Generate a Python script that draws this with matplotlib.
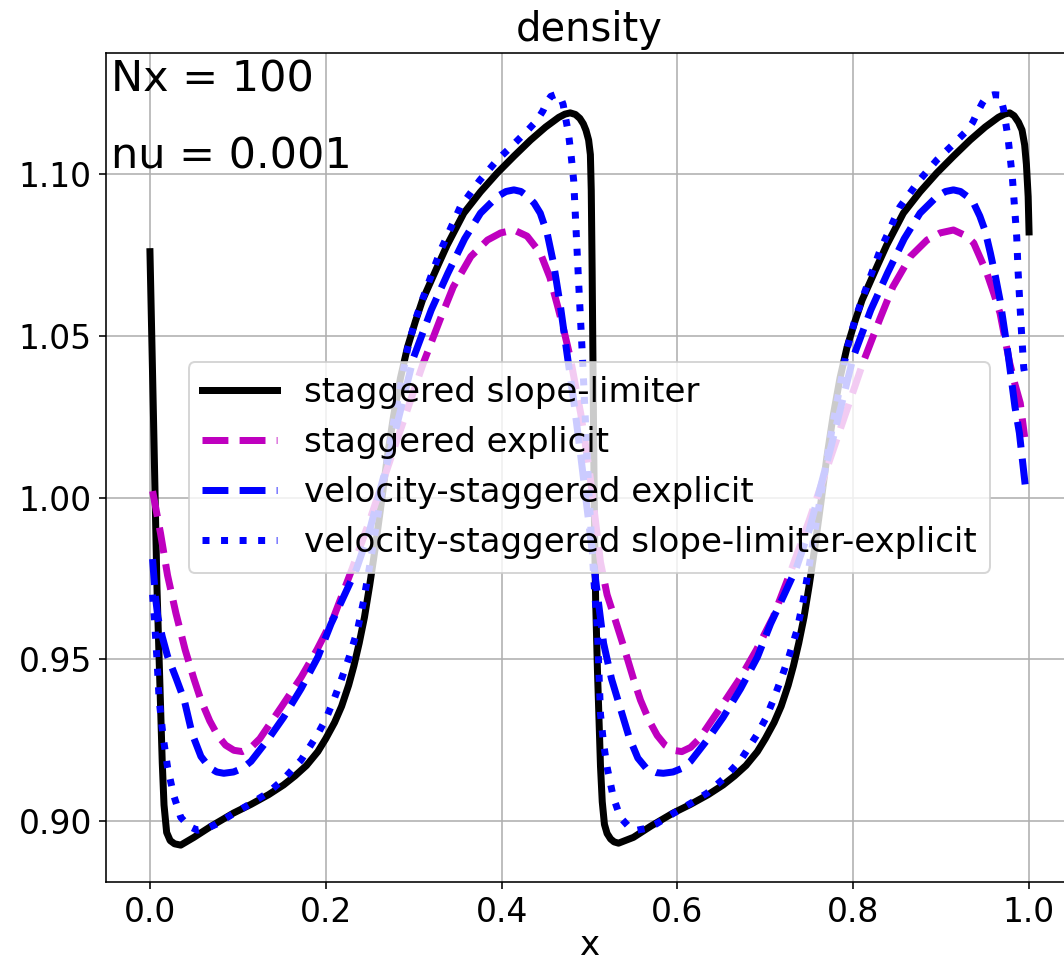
import matplotlib
matplotlib.use("Agg")
import matplotlib.pyplot as plt

# staggered slope-limiter
black_x = [0.000, 0.004, 0.008, 0.011, 0.014, 0.016, 0.019, 0.023, 0.028, 0.035,
           0.050, 0.070, 0.095, 0.115, 0.135, 0.152, 0.165, 0.178, 0.191, 0.200,
           0.210, 0.218, 0.226, 0.232, 0.238, 0.244, 0.250, 0.256, 0.263, 0.270,
           0.277, 0.285, 0.293, 0.302, 0.310, 0.319, 0.328, 0.338, 0.357, 0.376,
           0.395, 0.414, 0.433, 0.450, 0.465, 0.472, 0.478, 0.484, 0.489, 0.493,
           0.496, 0.499, 0.501, 0.502, 0.503, 0.504, 0.505, 0.506, 0.507, 0.509,
           0.5125, 0.5145, 0.517, 0.520, 0.524, 0.528, 0.533,
           0.550, 0.570, 0.595, 0.615, 0.635, 0.652, 0.665, 0.678, 0.691, 0.700,
           0.710, 0.718, 0.726, 0.732, 0.738, 0.744, 0.750, 0.756, 0.763, 0.770,
           0.777, 0.785, 0.793, 0.802, 0.810, 0.819, 0.828, 0.838, 0.857, 0.876,
           0.895, 0.914, 0.933, 0.950, 0.965, 0.972, 0.978, 0.983, 0.988, 0.992,
           0.995, 0.997, 0.999, 1.000]
black_y = [1.076, 1.025, 0.972, 0.945, 0.918, 0.905, 0.8965, 0.8940, 0.8930, 0.8926,
           0.8950, 0.8985, 0.9025, 0.9052, 0.9082, 0.9112, 0.9140, 0.9172, 0.9215, 0.9255,
           0.9305, 0.9355, 0.9420, 0.9480, 0.9550, 0.9630, 0.9730, 0.9840, 0.9980, 1.0125,
           1.0250, 1.0370, 1.0465, 1.0545, 1.0610, 1.0665, 1.0720, 1.0780, 1.0879, 1.0945,
           1.1003, 1.1055, 1.1105, 1.1145, 1.1175, 1.1185, 1.1189, 1.1184, 1.1172, 1.1155,
           1.1135, 1.1105, 1.1060, 1.0950, 1.0700, 1.0400, 1.0100, 0.9850, 0.9680, 0.9470,
           0.9170, 0.9060, 0.8990, 0.8962, 0.8945, 0.8936, 0.8932,
           0.8950, 0.8985, 0.9025, 0.9052, 0.9082, 0.9112, 0.9140, 0.9172, 0.9215, 0.9255,
           0.9305, 0.9355, 0.9420, 0.9480, 0.9550, 0.9630, 0.9730, 0.9840, 0.9980, 1.0125,
           1.0250, 1.0370, 1.0465, 1.0545, 1.0610, 1.0665, 1.0720, 1.0780, 1.0879, 1.0945,
           1.1003, 1.1055, 1.1105, 1.1145, 1.1175, 1.1185, 1.1189, 1.1180, 1.1160, 1.1136,
           1.1090, 1.1030, 1.0930, 1.0821]

# staggered explicit
mag_x = [0.003, 0.012, 0.020, 0.0295, 0.040, 0.050, 0.058, 0.068, 0.077, 0.086,
         0.0955, 0.105, 0.115, 0.125, 0.134, 0.150, 0.172, 0.190, 0.209, 0.230,
         0.250, 0.280, 0.311, 0.330, 0.345, 0.365, 0.384, 0.399, 0.414, 0.429,
         0.444, 0.455, 0.464, 0.471, 0.478, 0.490, 0.500, 0.5125, 0.520, 0.5295,
         0.540, 0.550, 0.558, 0.568, 0.577, 0.586, 0.5955, 0.605, 0.615, 0.625,
         0.634, 0.650, 0.672, 0.690, 0.709, 0.730, 0.750, 0.780, 0.811, 0.830,
         0.845, 0.865, 0.884, 0.899, 0.914, 0.929, 0.937, 0.952, 0.960, 0.967,
         0.978, 0.984, 0.990, 0.995]
mag_y = [1.002, 0.989, 0.976, 0.9643, 0.9530, 0.9440, 0.9374, 0.9310, 0.9265, 0.9235,
         0.9219, 0.9215, 0.9228, 0.9255, 0.9291, 0.9355, 0.9445, 0.9530, 0.9631, 0.9780,
         0.9930, 1.0170, 1.0416, 1.0550, 1.0651, 1.0745, 1.0796, 1.0818, 1.0827, 1.0808,
         1.0756, 1.0680, 1.0589, 1.0515, 1.0434, 1.0260, 1.0080, 0.9800, 0.9700, 0.9620,
         0.9530, 0.9440, 0.9374, 0.9310, 0.9265, 0.9235, 0.9219, 0.9215, 0.9228, 0.9255,
         0.9291, 0.9355, 0.9445, 0.9530, 0.9631, 0.9780, 0.9930, 1.0170, 1.0416, 1.0550,
         1.0651, 1.0745, 1.0796, 1.0818, 1.0827, 1.0808, 1.0787, 1.0694, 1.0630, 1.0570,
         1.0416, 1.0350, 1.0292, 1.0187]

# velocity-staggered explicit
vse_x = [0.003, 0.006, 0.009, 0.014, 0.020, 0.030, 0.039, 0.048, 0.058, 0.068,
         0.076, 0.084, 0.095, 0.105, 0.115, 0.125, 0.135, 0.152, 0.172, 0.191,
         0.206, 0.217, 0.235, 0.250, 0.275, 0.300, 0.320, 0.339, 0.358, 0.376,
         0.395, 0.405, 0.414, 0.422, 0.430, 0.437, 0.444, 0.452, 0.459, 0.467,
         0.475, 0.482, 0.490, 0.498, 0.507, 0.516, 0.525, 0.535, 0.545, 0.555,
         0.565, 0.576, 0.584, 0.595, 0.605, 0.615, 0.625, 0.635, 0.652, 0.672,
         0.691, 0.706, 0.717, 0.735, 0.750, 0.775, 0.800, 0.820, 0.839, 0.858,
         0.876, 0.895, 0.905, 0.914, 0.922, 0.930, 0.937, 0.944, 0.950, 0.956,
         0.962, 0.967, 0.976, 0.984, 0.989, 0.996]
vse_y = [0.981, 0.970, 0.963, 0.957, 0.951, 0.9440, 0.9374, 0.9270, 0.9200, 0.9165,
         0.9152, 0.9148, 0.9152, 0.9163, 0.9185, 0.9220, 0.9255, 0.9321, 0.9410, 0.9507,
         0.9610, 0.9674, 0.9780, 0.9900, 1.0160, 1.0434, 1.0580, 1.0694, 1.0800, 1.0879,
         1.0930, 1.0946, 1.0951, 1.0946, 1.0930, 1.0910, 1.0879, 1.0815, 1.0725, 1.0590,
         1.0434, 1.0300, 1.0130, 0.9950, 0.9745, 0.9550, 0.9440, 0.9350, 0.9260, 0.9195,
         0.9162, 0.9150, 0.9148, 0.9152, 0.9163, 0.9185, 0.9220, 0.9255, 0.9321, 0.9410,
         0.9507, 0.9610, 0.9674, 0.9780, 0.9900, 1.0160, 1.0434, 1.0580, 1.0694, 1.0800,
         1.0879, 1.0930, 1.0946, 1.0951, 1.0946, 1.0930, 1.0910, 1.0870, 1.0825, 1.0756,
         1.0680, 1.0610, 1.0447, 1.0280, 1.0200, 1.0030]

# velocity-staggered slope-limiter-explicit
vsl_x = [0.003, 0.005, 0.008, 0.0105, 0.015, 0.020, 0.027, 0.035, 0.044, 0.054,
         0.065, 0.075, 0.096, 0.115, 0.134, 0.152, 0.172, 0.190, 0.200, 0.209,
         0.218, 0.227, 0.236, 0.243, 0.250, 0.262, 0.277, 0.293, 0.302, 0.311,
         0.330, 0.353, 0.375, 0.395, 0.413, 0.430, 0.440, 0.447, 0.452, 0.456,
         0.461, 0.466, 0.470, 0.473, 0.476, 0.479, 0.482, 0.4875, 0.492, 0.496,
         0.500, 0.505, 0.509, 0.5125, 0.516, 0.520, 0.527, 0.535, 0.544, 0.554,
         0.565, 0.575, 0.596, 0.615, 0.634, 0.652, 0.672, 0.690, 0.700, 0.709,
         0.718, 0.727, 0.736, 0.743, 0.750, 0.762, 0.777, 0.793, 0.802, 0.811,
         0.830, 0.853, 0.875, 0.895, 0.913, 0.930, 0.936, 0.941, 0.947, 0.952,
         0.960, 0.967, 0.971, 0.976, 0.981, 0.986, 0.9875, 0.991, 0.994, 0.996]
vsl_y = [0.970, 0.963, 0.950, 0.9374, 0.9260, 0.9167, 0.9080, 0.9012, 0.8985, 0.8972,
         0.8978, 0.8990, 0.9025, 0.9055, 0.9087, 0.9130, 0.9189, 0.9265, 0.9315, 0.9374,
         0.9440, 0.9510, 0.9590, 0.9680, 0.9790, 0.9990, 1.0230, 1.0460, 1.0550, 1.0620,
         1.0760, 1.0898, 1.0980, 1.1043, 1.1090, 1.1136, 1.1165, 1.1195, 1.1225, 1.1240,
         1.1245, 1.1244, 1.1215, 1.1170, 1.1127, 1.1060, 1.0980, 1.0672, 1.0434, 1.0200,
         0.9980, 0.9745, 0.9590, 0.9330, 0.9240, 0.9167, 0.9075, 0.9012, 0.8985, 0.8972,
         0.8978, 0.8990, 0.9025, 0.9055, 0.9087, 0.9130, 0.9189, 0.9265, 0.9315, 0.9374,
         0.9440, 0.9510, 0.9590, 0.9680, 0.9790, 0.9990, 1.0230, 1.0460, 1.0550, 1.0620,
         1.0760, 1.0898, 1.0980, 1.1043, 1.1090, 1.1136, 1.1160, 1.1189, 1.1220, 1.1240,
         1.1245, 1.1244, 1.1200, 1.1114, 1.0990, 1.0805, 1.0700, 1.0530, 1.0400, 1.0370]

labels = ["staggered slope-limiter", "staggered explicit",
          "velocity-staggered explicit", "velocity-staggered slope-limiter-explicit"]

fig = plt.figure(figsize=(1064 / 144, 964 / 144), dpi=144)
ax = fig.add_axes([106 / 1064, 82 / 964, 967 / 1064, 829 / 964])

lw = 3.5
ax.plot(black_x, black_y, "k-", lw=lw, label=labels[0])
ax.plot(mag_x, mag_y, "m--", lw=lw, label=labels[1])
ax.plot(vse_x, vse_y, "b--", lw=lw, label=labels[2])
ax.plot(vsl_x, vsl_y, "b:", lw=lw, label=labels[3])

ax.set_xlim(-0.05, 1.05)
ax.set_ylim(0.8812, 1.1374)
ax.set_xticks([0.0, 0.2, 0.4, 0.6, 0.8, 1.0])
ax.set_yticks([0.90, 0.95, 1.00, 1.05, 1.10])
ax.tick_params(labelsize=16.5)
ax.grid(True)

ax.set_title("density", fontsize=20)
ax.set_xlabel("x", fontsize=17, labelpad=0)

ax.text(0.005, 0.953, "Nx = 100", transform=ax.transAxes, fontsize=21.5, va="baseline")
ax.text(0.005, 0.861, "nu = 0.001", transform=ax.transAxes, fontsize=21.5, va="baseline")

ax.legend(loc="center", fontsize=17, handlelength=2.2)

fig.savefig("out.png", dpi=144)
